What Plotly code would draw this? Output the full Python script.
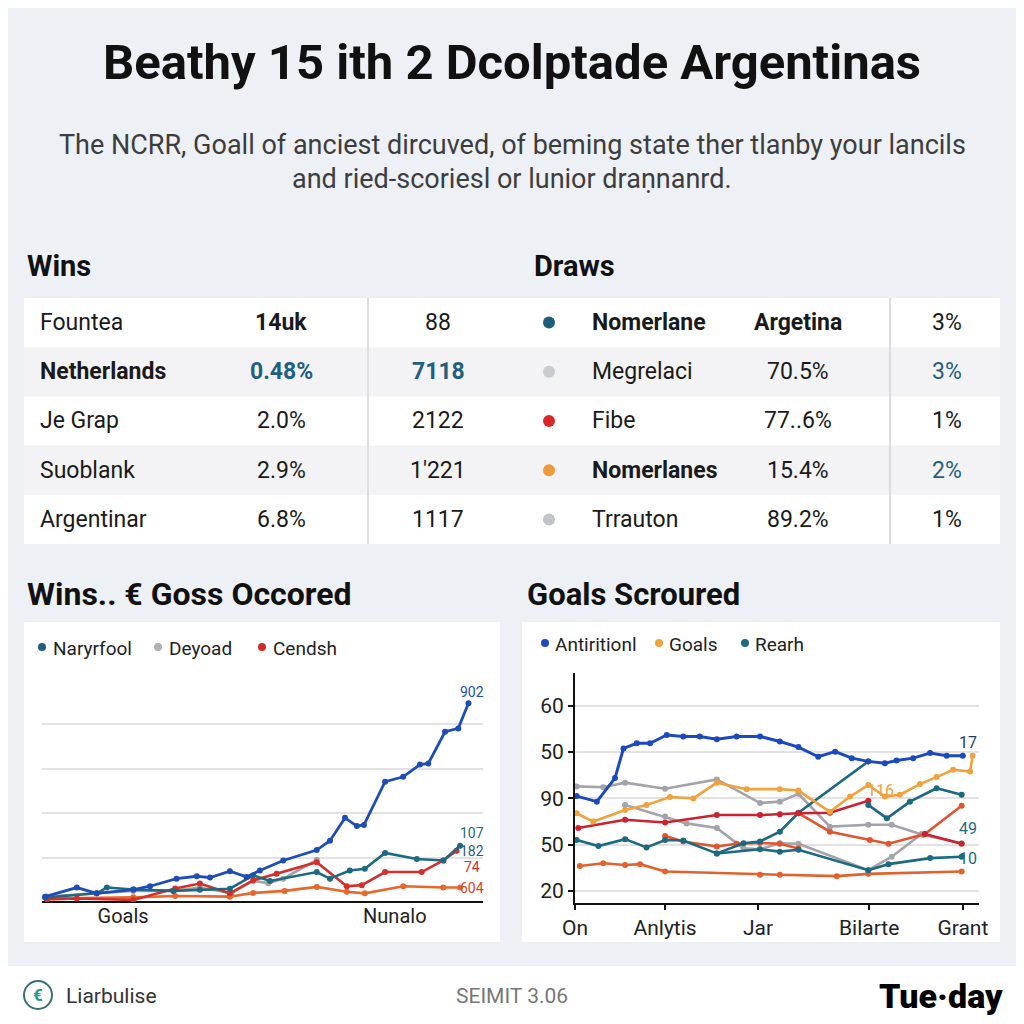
import plotly.graph_objects as go

# ---- text ----
title = "Beathy 15 ith 2 Dcolptade Argentinas"
subtitle = ["The NCRR, Goall of anciest dircuved, of beming state ther tlanby your lancils",
            "and ried-scoriesl or lunior draṇnanrd."]

# ---- tables ----
wins_names = ["Fountea", "Netherlands", "Je Grap", "Suoblank", "Argentinar"]
wins_pct = ["14uk", "0.48%", "2.0%", "2.9%", "6.8%"]
wins_count = ["88", "7118", "2122", "1'221", "1117"]
draws_names = ["Nomerlane", "Megrelaci", "Fibe", "Nomerlanes", "Trrauton"]
draws_value = ["Argetina", "70.5%", "77..6%", "15.4%", "89.2%"]
draws_share = ["3%", "3%", "1%", "2%", "1%"]

# ---- left chart: Wins.. € Goss Occored ----
left_ticks = [18.4, 80.0]
left_ticktext = ["Goals", "Nunalo"]
left_blue_x = [0.7, 7.9, 12.4, 20.7, 24.5, 30.5, 35.1, 38.1, 42.6, 46.4, 49.4, 54.7, 62.3, 65.3,
               68.7, 71.4, 73.0, 77.8, 81.9, 85.7, 87.6, 91.4, 94.4, 96.7]
left_blue_y = [24, 65, 39, 56, 71, 105, 116, 110, 139, 113, 142, 187, 234, 276,
               379, 342, 347, 542, 564, 619, 624, 767, 782, 895]
left_teal_x = [0.7, 12.4, 14.7, 20.7, 29.8, 35.8, 42.6, 47.9, 51.7, 62.3, 65.3, 69.8, 73.2,
               77.8, 85.0, 91.0, 94.8]
left_teal_y = [20, 39, 65, 56, 50, 55, 60, 120, 95, 135, 105, 142, 150, 221, 194, 187, 253]
left_grey_x = [1.1, 20.7, 29.8, 35.8, 43.0, 47.9, 51.3, 54.7, 62.3]
left_grey_y = [25, 50, 50, 65, 40, 95, 85, 105, 190]
left_red_x = [1.1, 7.9, 20.7, 30.2, 35.8, 42.6, 47.9, 53.2, 62.3, 69.1, 72.5, 77.8, 86.1, 91.0, 94.0]
left_red_y = [12, 16, 9, 61, 83, 39, 98, 127, 179, 71, 76, 135, 135, 187, 231]
left_orange_x = [1.1, 20.7, 30.2, 42.6, 47.9, 55.0, 62.3, 69.1, 73.2, 81.9, 91.0, 94.8]
left_orange_y = [16, 21, 27, 24, 41, 50, 68, 46, 39, 71, 65, 65]
left_end_labels = ["902", "107", "182", "74", "604"]
left_end_label_y = [947, 310, 232, 159, 64]

# ---- right chart: Goals Scroured ----
right_ytick = [20, 30, 40, 50, 60]
right_yticktext = ["20", "50", "90", "50", "60"]
right_xtick = [0, 22.3, 45.3, 72.8, 96]
right_xticktext = ["On", "Anlytis", "Jar", "Bilarte", "Grant"]
r_blue_x = [0.4, 5.4, 9.9, 12.0, 15.3, 18.6, 22.7, 26.8, 30.9, 35.1, 40.0, 45.8, 50.7, 55.3,
            60.2, 64.4, 68.5, 72.6, 76.7, 79.6, 83.7, 87.9, 92.0, 96.0]
r_blue_y = [40.5, 39.3, 44.4, 50.8, 51.9, 51.9, 53.7, 53.4, 53.4, 52.8, 53.4, 53.4, 52.3, 51.1,
            49.0, 50.1, 48.7, 48.0, 47.6, 48.2, 48.7, 49.8, 49.2, 49.2]
r_orange_x = [0.4, 4.5, 12.4, 17.7, 23.5, 29.3, 35.1, 42.5, 50.7, 55.3, 63.1, 68.1, 72.6, 76.7,
              80.4, 85.4, 89.5, 93.6, 97.8, 98.4]
r_orange_y = [36.8, 35.0, 37.5, 38.6, 40.3, 40.0, 43.4, 42.0, 42.0, 41.7, 37.1, 40.4, 42.9, 40.4,
              40.8, 43.1, 44.6, 46.2, 45.8, 49.2]
r_grey_a_x = [0.4, 7.0, 12.4, 22.3, 35.1, 45.8, 50.7, 55.3, 63.1, 72.6, 78.4, 86.2, 95.7]
r_grey_a_y = [42.6, 42.4, 43.4, 42.1, 44.1, 39.0, 39.3, 41.0, 33.9, 34.3, 34.3, 32.1, 30.3]
r_grey_b_x = [12.4, 22.3, 27.6, 35.1, 41.7, 45.8, 50.7, 55.3, 72.6, 78.4, 85.8]
r_grey_b_y = [38.6, 36.1, 34.6, 33.6, 29.2, 29.0, 30.3, 30.2, 24.5, 27.4, 32.3]
r_red_a_x = [0.8, 12.4, 22.3, 35.1, 45.8, 50.7, 55.3, 63.1, 72.6]
r_red_a_y = [33.6, 35.4, 34.8, 36.4, 36.4, 36.6, 36.8, 36.9, 39.5]
r_red_b_x = [22.3, 26.8, 35.1, 40.0, 45.8, 50.7, 55.3]
r_red_b_y = [31.9, 30.7, 29.6, 30.2, 30.4, 30.2, 29.2]
r_red_c_x = [55.3, 63.1, 73.0, 77.6, 86.6, 95.7]
r_red_c_y = [36.8, 32.8, 31.0, 30.2, 32.3, 38.4]
r_red_d_x = [86.6, 95.7]
r_red_d_y = [32.3, 30.2]
r_low_x = [1.2, 7.0, 12.4, 16.1, 22.3, 45.8, 50.7, 64.8, 72.6, 95.7]
r_low_y = [25.4, 26.0, 25.6, 25.8, 24.2, 23.5, 23.5, 23.2, 23.7, 24.2]
r_teal_a_x = [0.4, 5.8, 12.4, 17.7, 22.3, 26.8, 35.1, 41.7, 45.8, 50.7, 55.3, 72.6]
r_teal_a_y = [31.0, 29.7, 31.2, 29.4, 31.0, 30.9, 28.1, 30.3, 30.7, 32.8, 36.9, 48.0]
r_teal_b_x = [35.1, 45.8, 50.7, 55.3, 72.6, 77.6, 87.9, 95.7]
r_teal_b_y = [28.1, 29.0, 28.5, 28.9, 24.5, 25.8, 27.1, 27.4]
r_teal_c_x = [72.6, 77.2, 82.9, 89.5, 95.7]
r_teal_c_y = [38.6, 35.7, 39.3, 42.2, 40.8]
right_end_labels = ["17", "116", "49", "10"]
right_end_label_x = [97.3, 75.5, 97.3, 97.3]
right_end_label_y = [52.0, 41.8, 33.4, 27.1]

FONT = "Roboto"
BLUE = "#1f4db8"
TEAL = "#1d6a80"
RED = "#d42f2a"
ORANGE = "#e8672c"
GOLD = "#f0a23c"
GREY = "#a3a3aa"

# the page puts the figure 8px in from the corner, so the figure covers reference pixels 8..1024
OFF = 8
SIZE = 1016


def px_x(x):
    return (x - OFF) / SIZE


def px_y(y):
    return 1 - (y - OFF) / SIZE


def text(x, y, s, size=20, color="#1a1a1a", bold=False, anchor="left", weight=None):
    font = dict(family=FONT, size=size, color=color)
    if weight:
        font["weight"] = weight
    return dict(x=px_x(x), y=px_y(y), xref="paper", yref="paper", text=f"<b>{s}</b>" if bold else s,
                showarrow=False, xanchor=anchor, yanchor="middle", font=font)


def rect(x0, y0, x1, y1, fill, kind="rect"):
    return dict(type=kind, xref="paper", yref="paper", x0=px_x(x0), x1=px_x(x1), y0=px_y(y1), y1=px_y(y0),
                fillcolor=fill, line=dict(width=0, color=fill), layer="below")


def dot(x, y, r, color):
    d = rect(x - r, y - r, x + r, y + r, color, kind="circle")
    d["layer"] = "above"
    return d


fig = go.Figure()
shapes = []
ann = []

# header
ann.append(text(512, 62, title, size=49, color="#111111", bold=True, anchor="center"))
ann.append(text(512, 145, subtitle[0], size=27, color="#3d3d3d", anchor="center"))
ann.append(text(512, 179, subtitle[1], size=27, color="#3d3d3d", anchor="center"))
ann.append(text(25, 266, "Wins", size=29, color="#111111", bold=True))
ann.append(text(532, 266, "Draws", size=29, color="#111111", bold=True))

# table
top, row_h = 298, 49.2
shapes.append(rect(24, top, 1000, top + 5 * row_h, "#ffffff"))
for i in range(5):
    yc = top + row_h * (i + 0.5)
    if i % 2 == 1:
        shapes.append(rect(24, top + row_h * i, 1000, top + row_h * (i + 1), "#f3f3f5"))
    highlight = i == 1
    ann.append(text(38, yc, wins_names[i], size=23, bold=highlight))
    ann.append(text(281, yc, wins_pct[i], size=23, bold=i in (0, 1),
                    color="#1f5f80" if highlight else "#1a1a1a", anchor="center"))
    ann.append(text(438, yc, wins_count[i], size=23, bold=highlight,
                    color="#1f5f80" if highlight else "#1a1a1a", anchor="center"))
    dot_col = ["#1b5d7c", "#c9cbd1", "#d8262a", "#f0993a", "#c2c4ca"][i]
    shapes.append(dot(549, yc, 6, dot_col))
    ann.append(text(590, yc, draws_names[i], size=23, bold=i in (0, 3)))
    ann.append(text(798, yc, draws_value[i], size=23, bold=i == 0, anchor="center"))
    ann.append(text(947, yc, draws_share[i], size=23,
                    color="#1f5f80" if i in (1, 3) else "#1a1a1a", anchor="center"))
for xd in (368, 890):
    shapes.append(dict(type="line", xref="paper", yref="paper", x0=px_x(xd), x1=px_x(xd),
                       y0=px_y(top), y1=px_y(top + 5 * row_h), line=dict(color="#dcdde0", width=2)))

# chart panels
ann.append(text(25, 594, "Wins.. € Goss Occored", size=32, color="#111111", bold=True))
ann.append(text(525, 594, "Goals Scroured", size=31, color="#111111", bold=True))
shapes.append(rect(24, 622, 500, 942, "#ffffff"))
shapes.append(rect(522, 622, 1000, 942, "#ffffff"))

# legends
for xd, label, col in [(42, "Naryrfool", "#1d5f7e"), (158, "Deyoad", "#b0b0b4"), (262, "Cendsh", "#d62a2a")]:
    shapes.append(dot(xd, 647, 4, col))
    ann.append(text(xd + 9, 648, label, size=19, color="#222222"))
for xd, label, col in [(545, "Antiritionl", "#1c48c0"), (659, "Goals", GOLD), (745, "Rearh", TEAL)]:
    shapes.append(dot(xd, 643, 4, col))
    ann.append(text(xd + 8, 644, label, size=19, color="#222222"))


def add_line(x, y, color, axis, width=2.6, msize=6):
    fig.add_trace(go.Scatter(x=x, y=y, mode="lines+markers", line=dict(color=color, width=width),
                             marker=dict(color=color, size=msize), xaxis=axis[0], yaxis=axis[1],
                             showlegend=False, hoverinfo="skip"))


L = ("x", "y")
add_line(left_grey_x, left_grey_y, GREY, L)
add_line(left_orange_x, left_orange_y, ORANGE, L)
add_line(left_red_x, left_red_y, RED, L)
add_line(left_teal_x, left_teal_y, TEAL, L)
add_line(left_blue_x, left_blue_y, BLUE, L, width=2.8)

R = ("x2", "y2")
add_line(r_low_x, r_low_y, "#e2622e", R)
add_line(r_grey_a_x, r_grey_a_y, GREY, R)
add_line(r_grey_b_x, r_grey_b_y, GREY, R)
add_line(r_red_b_x, r_red_b_y, "#e05530", R)
add_line(r_teal_b_x, r_teal_b_y, TEAL, R)
add_line(r_teal_a_x, r_teal_a_y, TEAL, R)
add_line(r_red_c_x, r_red_c_y, "#e05530", R)
add_line(r_red_d_x, r_red_d_y, "#cc2230", R)
add_line(r_red_a_x, r_red_a_y, "#cc2230", R)
add_line(r_orange_x, r_orange_y, GOLD, R)
add_line(r_teal_c_x, r_teal_c_y, TEAL, R)
add_line(r_blue_x, r_blue_y, "#1c48c0", R, width=3)

left_label_colors = [BLUE, TEAL, "#2a5a8a", RED, "#d2452a"]
for s, yv, c in zip(left_end_labels, left_end_label_y, left_label_colors):
    ann.append(dict(x=97.4, y=yv, xref="x", yref="y", text=s, showarrow=False, xanchor="center",
                    yanchor="middle", font=dict(family=FONT, size=14, color=c)))
right_label_colors = ["#1f3d6a", GOLD, TEAL, TEAL]
for s, xv, yv, c in zip(right_end_labels, right_end_label_x, right_end_label_y, right_label_colors):
    ann.append(dict(x=xv, y=yv, xref="x2", yref="y2", text=s, showarrow=False, xanchor="center",
                    yanchor="middle", font=dict(family=FONT, size=16, color=c)))

# footer
shapes.append(rect(0, 966, 1024, 1030, "#ffffff"))
circ = rect(24, 981, 52, 1009, "#ffffff", kind="circle")
circ["line"] = dict(color="#3a6f78", width=2)
circ["layer"] = "above"
shapes.append(circ)
ann.append(text(38, 995, "<b>€</b>", size=17, color="#1f9c8c", anchor="center"))
ann.append(text(64, 996, "Liarbulise", size=21, color="#333333"))
ann.append(text(512, 996, "SEIMIT 3.06", size=21, color="#777777", anchor="center"))
ann.append(text(1005, 996, "Tue·day", size=34, color="#000000", anchor="right", weight=900))

fig.update_layout(
    width=SIZE, height=SIZE, margin=dict(l=0, r=0, t=0, b=0, autoexpand=False),
    paper_bgcolor="#edf0f5", plot_bgcolor="rgba(0,0,0,0)",
    shapes=shapes, annotations=ann, showlegend=False,
    font=dict(family=FONT),
    xaxis=dict(domain=[px_x(42), px_x(483)], range=[0, 100], tickvals=left_ticks, ticktext=left_ticktext,
               showgrid=False, zeroline=False, showline=False, ticks="", automargin=False,
               tickfont=dict(size=20, color="#222222"), anchor="y"),
    yaxis=dict(domain=[px_y(902), px_y(680)], range=[0, 1000], tickvals=[0, 200, 400, 600, 800],
               showticklabels=False, gridcolor="#e2e2e4", gridwidth=1.5, zeroline=True, automargin=False,
               zerolinecolor="#111111", zerolinewidth=2, anchor="x"),
    xaxis2=dict(domain=[px_x(575), px_x(979)], range=[0, 100], tickvals=right_xtick, ticktext=right_xticktext,
                showgrid=False, zeroline=False, showline=True, linecolor="#111111", linewidth=2,
                ticks="outside", ticklen=5, tickwidth=2, tickcolor="#111111", automargin=False,
                tickfont=dict(size=21, color="#222222"), anchor="y2"),
    yaxis2=dict(domain=[px_y(903), px_y(673)], range=[17.4, 67.1], tickvals=right_ytick,
                ticktext=right_yticktext, gridcolor="#e2e2e4", gridwidth=1.5, zeroline=False, automargin=False,
                showline=True, linecolor="#111111", linewidth=2, ticks="outside", ticklen=5, tickwidth=2,
                tickcolor="#111111", tickfont=dict(size=21, color="#222222"), anchor="x2"),
)

fig.write_html("out.html")
